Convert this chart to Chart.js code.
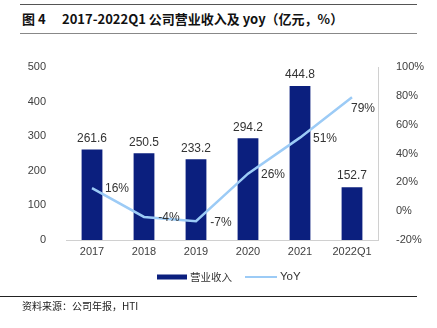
<!DOCTYPE html>
<html>
<head>
<meta charset="utf-8">
<script src="https://cdn.jsdelivr.net/npm/chart.js@4"></script>
<style>
    body { margin: 0; width: 437px; height: 328px; background: #fff; overflow: hidden; position: relative; }
    .rule-top { position: absolute; left: 20px; right: 20px; top: 4px; border-top: 1px solid #555; }
    .title { position: absolute; top: 9px; font: bold 13px "Noto Sans CJK SC", sans-serif; color: #111; white-space: nowrap; }
    .rule-mid { position: absolute; left: 20px; right: 20px; top: 33px; border-top: 1px solid #888; }
    .rule-foot { position: absolute; left: 0; right: 20px; top: 296px; border-top: 1px solid #222; }
    .foot { position: absolute; left: 22px; top: 298px; font: 10px "Noto Sans CJK SC", sans-serif; color: #222; }
    #chart { position: absolute; left: 0; top: 0; }
</style>
</head>
<body>
<div class="rule-top"></div>
<div class="title" style="left:22px">图 4</div>
<div class="title" style="left:62px">2017-2022Q1 公司营业收入及 yoy（亿元，%）</div>
<div class="rule-mid"></div>
<canvas id="chart" width="437" height="328"></canvas>
<div class="rule-foot"></div>
<div class="foot">资料来源：公司年报，HTI</div>
<script>
const categories = ['2017', '2018', '2019', '2020', '2021', '2022Q1'];
const revenue = [261.6, 250.5, 233.2, 294.2, 444.8, 152.7];
const yoy = [16, -4, -7, 26, 51, 79];
const revenueTicks = [0, 100, 200, 300, 400, 500];
const yoyTicks = [-20, 0, 20, 40, 60, 80, 100];

const NAVY = '#0b1f7e';
const LIGHT = '#9ccbf6';
const TEXT = '#333';

// labels over bars and next to the line points, plus the legend
const labelPlugin = {
    id: 'labels',
    afterDatasetsDraw(chart) {
        const ctx = chart.ctx;
        ctx.save();
        ctx.font = '12px "Liberation Sans", Arial, sans-serif';
        ctx.fillStyle = TEXT;
        ctx.textAlign = 'center';
        ctx.textBaseline = 'bottom';
        chart.getDatasetMeta(0).data.forEach((bar, i) => {
            ctx.fillText(revenue[i].toFixed(1), bar.x, bar.y - 5);
        });
        ctx.textBaseline = 'middle';
        const pts = chart.getDatasetMeta(1).data;
        pts.forEach((p, i) => {
            if (i === pts.length - 1) {
                ctx.fillText(yoy[i] + '%', p.x + 11, p.y + 11);
            } else {
                ctx.fillText(yoy[i] + '%', p.x + 25, p.y + 1);
            }
        });

        // legend
        const ly = 277;
        ctx.fillStyle = NAVY;
        ctx.fillRect(157, ly - 2.5, 30, 5);
        ctx.fillStyle = '#333';
        ctx.textAlign = 'left';
        ctx.font = '10.5px "Noto Sans CJK SC", sans-serif';
        ctx.fillText('营业收入', 190, ly);
        ctx.strokeStyle = LIGHT;
        ctx.lineWidth = 2;
        ctx.beginPath();
        ctx.moveTo(245, ly);
        ctx.lineTo(277, ly);
        ctx.stroke();
        ctx.font = '11.5px "Liberation Sans", Arial, sans-serif';
        ctx.fillText('YoY', 280, ly);
        ctx.restore();
    }
};

new Chart(document.getElementById('chart'), {
    data: {
        labels: categories,
        datasets: [
            {
                type: 'bar',
                label: '营业收入',
                data: revenue,
                backgroundColor: NAVY,
                yAxisID: 'y',
                categoryPercentage: 1,
                barPercentage: 0.4,
                order: 2
            },
            {
                type: 'line',
                label: 'YoY',
                data: yoy,
                borderColor: LIGHT,
                borderWidth: 2.5,
                pointRadius: 0,
                tension: 0,
                yAxisID: 'y1',
                order: 1
            }
        ]
    },
    options: {
        responsive: false,
        animation: false,
        layout: {padding: {top: 67, bottom: 70}},
        plugins: {
            legend: {display: false},
            tooltip: {enabled: false}
        },
        scales: {
            x: {
                grid: {display: false, drawTicks: false},
                border: {color: '#d0d0d0'},
                ticks: {color: '#404040', font: {size: 11, family: '"Liberation Sans", Arial'}, padding: 5},
                afterFit: s => { s.height = 18; }
            },
            y: {
                position: 'left',
                min: 0,
                max: 500,
                afterBuildTicks: s => { s.ticks = revenueTicks.map(v => ({value: v})); },
                grid: {display: false},
                border: {display: false},
                ticks: {color: '#404040', font: {size: 11, family: '"Liberation Sans", Arial'}, padding: 12},
                afterFit: s => { s.width = 66; }
            },
            y1: {
                position: 'right',
                min: -20,
                max: 100,
                afterBuildTicks: s => { s.ticks = yoyTicks.map(v => ({value: v})); },
                grid: {display: false},
                border: {color: '#d0d0d0'},
                ticks: {color: '#404040', font: {size: 11, family: '"Liberation Sans", Arial'}, padding: 10, callback: v => v + '%'},
                afterFit: s => { s.width = 59; }
            }
        }
    },
    plugins: [labelPlugin]
});
</script>
</body>
</html>
